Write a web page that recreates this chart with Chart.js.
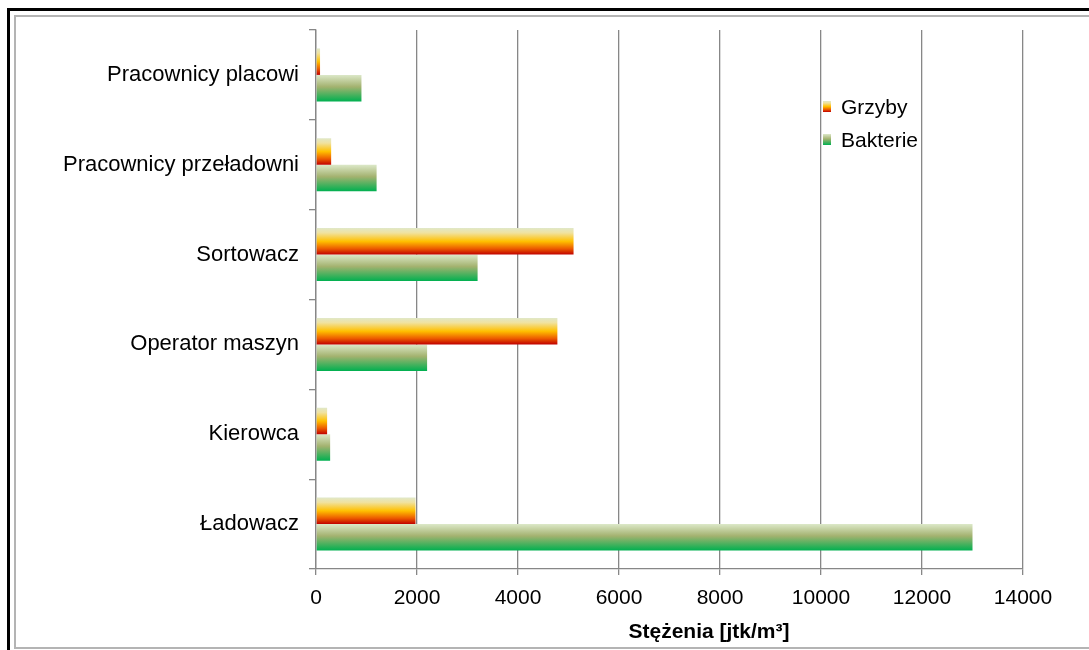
<!DOCTYPE html>
<html lang="pl">
<head>
<meta charset="utf-8">
<title>Stężenia bioaerozoli na stanowiskach pracy</title>
<script src="https://cdn.jsdelivr.net/npm/chart.js@4/dist/chart.umd.min.js"></script>
<style>
  html, body { margin: 0; padding: 0; background: #fff; }
  #wrap { width: 1089px; height: 650px; position: relative; }
</style>
</head>
<body>
<div id="wrap"><canvas id="chart"></canvas></div>
<script>
// Stanowiska pracy (od góry do dołu)
const categories = [
  'Pracownicy placowi',
  'Pracownicy przeładowni',
  'Sortowacz',
  'Operator maszyn',
  'Kierowca',
  'Ładowacz'
];

// Stężenia [jtk/m³]
const grzyby   = [80, 300, 5100, 4780, 220, 1970];
const bakterie = [900, 1200, 3200, 2200, 280, 13000];

const seriesNames = ['Grzyby', 'Bakterie'];
const xTicks = [0, 2000, 4000, 6000, 8000, 10000, 12000, 14000];
const axisTitle = 'Stężenia [jtk/m³]';

// Gradient stops (top -> bottom of each bar)
const gradientStops = [
  [[0, '#e0e8c8'], [0.18, '#f0e2a0'], [0.5, '#ffc000'], [0.78, '#ec5a00'], [1, '#c00000']],
  [[0, '#dce8c8'], [0.45, '#a3b26f'], [1, '#00b050']]
];

const FONT = "'Liberation Sans', Arial, sans-serif";
Chart.defaults.font.family = FONT;
Chart.defaults.color = '#000';

function makeGradient(ctx, top, bottom, stops) {
  const g = ctx.createLinearGradient(0, top, 0, bottom);
  stops.forEach(([o, c]) => g.addColorStop(o, c));
  return g;
}

// Vertical gradient fill for every bar, based on its drawn geometry
const barGradients = {
  id: 'barGradients',
  beforeDatasetsDraw(chart) {
    const ctx = chart.ctx;
    chart.data.datasets.forEach((ds, di) => {
      const meta = chart.getDatasetMeta(di);
      meta.data.forEach(el => {
        const top = el.y - el.height / 2;
        const bottom = el.y + el.height / 2;
        el.options.backgroundColor = makeGradient(ctx, top, bottom, gradientStops[di]);
      });
    });
  }
};

// Outer frame and white background
const frame = {
  id: 'frame',
  beforeDraw(chart) {
    const ctx = chart.ctx;
    ctx.save();
    ctx.fillStyle = '#fff';
    ctx.fillRect(0, 0, chart.width, chart.height);
    ctx.strokeStyle = '#000';
    ctx.lineWidth = 3;
    ctx.strokeRect(8.5, 9.5, 1300, 1300);
    ctx.strokeStyle = '#b4b4b4';
    ctx.lineWidth = 2;
    ctx.strokeRect(15, 16, 1300, 632);
    ctx.restore();
  }
};

// Legend inside the plot area and the value-axis title
const annotations = {
  id: 'annotations',
  afterDraw(chart) {
    const ctx = chart.ctx;
    ctx.save();
    const legendRows = [107, 140];
    seriesNames.forEach((name, i) => {
      const y = legendRows[i];
      ctx.fillStyle = makeGradient(ctx, y - 6, y + 5, gradientStops[i]);
      ctx.fillRect(823, y - 6, 8, 11);
      ctx.fillStyle = '#000';
      ctx.font = '21px ' + FONT;
      ctx.textAlign = 'left';
      ctx.textBaseline = 'middle';
      ctx.fillText(name, 841, y + 1);
    });
    ctx.font = 'bold 21px ' + FONT;
    ctx.textAlign = 'center';
    ctx.textBaseline = 'middle';
    ctx.fillText(axisTitle, 709, 632);
    ctx.restore();
  }
};

const GRID = '#878787';

new Chart(document.getElementById('chart'), {
  type: 'bar',
  data: {
    labels: categories,
    datasets: [
      { label: seriesNames[0], data: grzyby,   backgroundColor: () => '#ffc000', borderWidth: 0 },
      { label: seriesNames[1], data: bakterie, backgroundColor: () => '#00b050', borderWidth: 0 }
    ]
  },
  options: {
    indexAxis: 'y',
    responsive: true,
    maintainAspectRatio: false,
    animation: false,
    categoryPercentage: 0.59,
    barPercentage: 1.0,
    layout: { padding: { top: 30, right: 66, bottom: 0, left: 0 } },
    plugins: {
      legend: { display: false },
      tooltip: { enabled: false }
    },
    scales: {
      x: {
        type: 'linear',
        min: xTicks[0],
        max: xTicks[xTicks.length - 1],
        afterBuildTicks(scale) { scale.ticks = xTicks.map(v => ({ value: v })); },
        afterFit(scale) { scale.height = 81; },
        grid: { color: GRID, lineWidth: 1.3, tickLength: 6, drawTicks: true },
        border: { color: GRID, width: 1.3 },
        ticks: { font: { size: 21 }, color: '#000', padding: 11, maxRotation: 0, callback: v => String(v) }
      },
      y: {
        type: 'category',
        afterFit(scale) { scale.width = 316; },
        grid: { display: true, drawOnChartArea: false, offset: true, color: GRID, lineWidth: 1.3, tickLength: 7 },
        border: { color: GRID, width: 1.3 },
        ticks: { font: { size: 22 }, color: '#000', padding: 10 }
      }
    }
  },
  plugins: [frame, barGradients, annotations]
});
</script>
</body>
</html>
